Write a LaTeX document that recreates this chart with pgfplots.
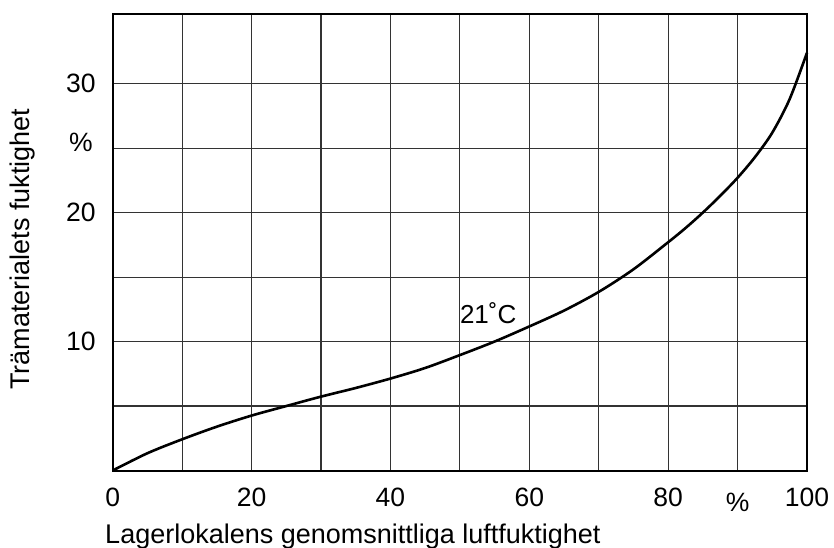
\documentclass[border=0pt]{standalone}
\usepackage{pgfplots}
\pgfplotsset{compat=1.18}
\usepackage{fontspec}
\setmainfont{Liberation Sans}

\begin{document}
\begin{tikzpicture}
\begin{axis}[
    scale only axis,
    width=694.3pt, height=456.5pt,
    xmin=0, xmax=100, ymin=0, ymax=35.4,
    xtick={0,10,...,100},
    xticklabels={0,,20,,40,,60,,80,\raisebox{-4.5pt}[\height][0pt]{\%},100},
    ytick={5,10,15,20,25,30},
    yticklabels={,10,,20,\raisebox{6pt}[\height][0pt]{\%},30},
    grid=major,
    major grid style={black!80, line width=1.1pt},
    axis line style={line width=2pt},
    major tick length=0pt,
    /pgf/number format/assume math mode=true,
    ticklabel style={font=\fontsize{26.5}{31}\selectfont},
    xticklabel style={anchor=center, inner sep=0pt, yshift=-27pt},
    yticklabel style={anchor=center, inner sep=0pt, xshift=-31.7pt},
    xlabel={Lagerlokalens genomsnittliga luftfuktighet},
    ylabel={Trämaterialets fuktighet},
    label style={font=\fontsize{27}{32}\selectfont},
    xlabel style={at={(axis description cs:-0.011,-0.1588)}, anchor=base west, inner sep=0pt},
    ylabel style={at={(axis description cs:-0.1292,0.485)}, anchor=center, inner sep=0pt},
    clip=false,
]
\addplot[black, line width=2.6pt, smooth] coordinates {
    (0,0) (5,1.34) (10,2.42) (15,3.4) (20,4.26) (25,5.0) (30,5.73) (35,6.4) (40,7.13)
    (45,7.95) (50,8.95) (55,10) (60,11.17) (65,12.4) (70,13.85) (75,15.6) (80,17.7)
    (82.5,18.8) (85,20) (87.5,21.3) (90,22.7) (92.5,24.3) (95,26.2) (97.5,28.8) (100,32.4)
};
\node[anchor=west, inner sep=0pt, font=\fontsize{26}{30}\selectfont] at (axis cs:50,12.18) {21˚C};
\coordinate (bl) at (rel axis cs:-0.1623,-0.1676);
\coordinate (tr) at (rel axis cs:1.0389,1.0307);
\end{axis}
\pgfresetboundingbox
\path (bl) rectangle (tr);
\end{tikzpicture}
\end{document}
